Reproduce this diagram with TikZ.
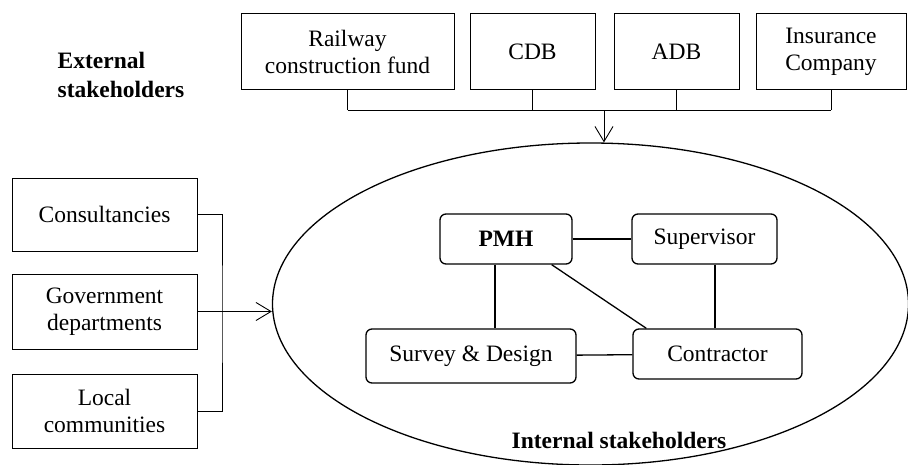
\documentclass[tikz,border=0pt]{standalone}
\usepackage{fontspec}
\setmainfont{Liberation Serif}
\usetikzlibrary{shapes.geometric,arrows.meta}
\begin{document}
\begin{tikzpicture}[x=1pt,y=-1pt,line width=0.9pt,
  font=\fontsize{23.5}{27}\selectfont,
  outbox/.style={draw,rectangle,align=center,inner sep=0pt,minimum height=76pt},
  inbox/.style={draw,rectangle,rounded corners=6pt,line width=1.3pt,inner sep=0pt,minimum height=50pt},
  link/.style={line width=1.3pt},
  tip/.style={-{Straight Barb[length=15pt,width=18pt,line width=0.9pt]}}]
\useasboundingbox (0,0) rectangle (908,464);
\node[ellipse,draw,line width=1.3pt,minimum width=636pt,minimum height=322pt,inner sep=0pt] (inner) at (590.5,304) {};
\node[font=\fontsize{23.5}{29}\selectfont\bfseries,align=left] (ext) at (121,75) {External\\stakeholders};
\node[font=\fontsize{23.5}{27}\selectfont\bfseries] (int) at (619,440) {Internal stakeholders};
\node[outbox,minimum width=213pt] (rail) at (347.5,51.5) {Railway\\construction fund};
\node[outbox,minimum width=125pt] (cdb) at (532.5,51.5) {CDB};
\node[outbox,minimum width=125pt] (adb) at (676.5,51.5) {ADB};
\node[outbox,minimum width=150pt] (ins) at (831,51.5) {Insurance\\Company};
\node[outbox,minimum width=185pt,minimum height=73pt] (cons) at (104.5,214.5) {Consultancies};
\node[outbox,minimum width=185pt,minimum height=75pt] (gov) at (104.5,311.5) {Government\\departments};
\node[outbox,minimum width=185pt,minimum height=74pt] (local) at (104.5,411) {Local\\communities};
\node[inbox,minimum width=132pt,font=\fontsize{23.5}{27}\selectfont\bfseries] (pmh) at (506,239) {PMH};
\node[inbox,minimum width=145pt] (sup) at (704.5,239) {Supervisor};
\node[inbox,minimum width=210pt,minimum height=54pt] (survey) at (471,356) {Survey \& Design};
\node[inbox,minimum width=169pt] (con) at (717.5,354) {Contractor};
\coordinate (bus) at (604,110);
\coordinate (join) at (222,315);
\foreach \n in {rail,cdb,adb,ins} \draw (\n.south) -- (\n.south |- bus);
\draw (rail.south |- bus) -- (ins.south |- bus);
\draw[tip] (bus) -- (bus |- inner.north);
\draw (cons.east) -| (join) |- (local.east);
\draw[tip] (gov.east) -- (gov.east -| inner.west);
\draw[link] (pmh.south -| 495,0) -- (survey.north -| 495,0);
\draw[link] (pmh) -- (sup);
\draw[link] ([xshift=-21pt]pmh.south east) -- ([xshift=14pt]con.north west);
\draw[link] (sup.south -| 715,0) -- (con.north -| 715,0);
\draw[link] (survey) -- (con);
\end{tikzpicture}
\end{document}
